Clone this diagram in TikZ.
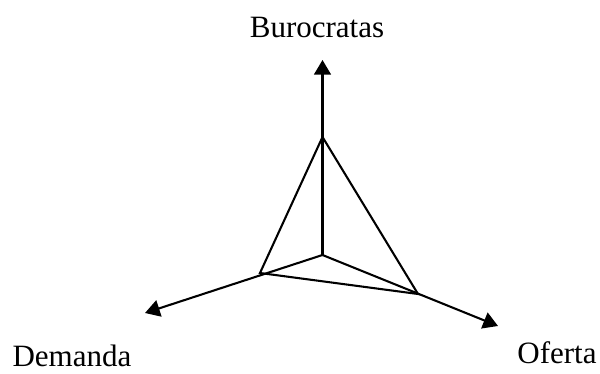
\documentclass[tikz,border=0pt]{standalone}
\usepackage{fontspec}
\setmainfont{Liberation Serif}
\usetikzlibrary{arrows.meta}

\begin{document}
\begin{tikzpicture}[x=0.0136cm,y=-0.0136cm,font=\fontsize{12}{14}\selectfont,
    axis/.style={-{Triangle[length=2mm,width=2.3mm]},line width=0.8pt},
    edge/.style={line width=0.8pt}]
      \useasboundingbox (0,0) rectangle (600,374);
      \coordinate (o) at (322.5,255);
      \coordinate (tipup) at (322.5,60);
      \coordinate (tipleft) at (145,313);
      \coordinate (tipright) at (498,326);
      \coordinate (vtop) at (322.5,137);
      \coordinate (vleft) at (260,273);
      \coordinate (vright) at (418,294);
      \draw[axis] (o) -- (tipup);
      \draw[axis] (o) -- (tipleft);
      \draw[axis] (o) -- (tipright);
      \draw[edge,line join=miter] (vtop) -- (vleft) -- (vright) -- cycle;
      \node[anchor=base] (buro) at (317,38) {Burocratas};
      \node[anchor=base] (dem) at (72,367) {Demanda};
      \node[anchor=base] (ofe) at (557,364) {Oferta};
    \end{tikzpicture}
\end{document}
